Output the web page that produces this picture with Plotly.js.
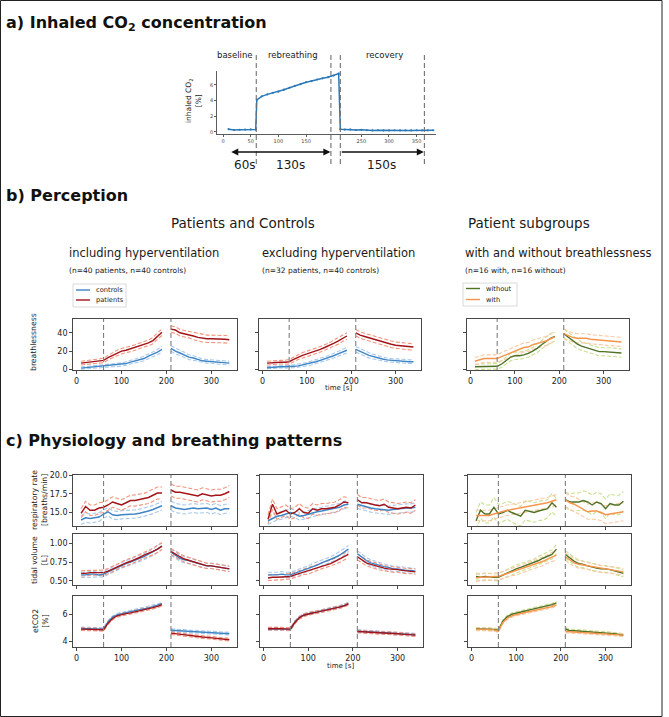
<!DOCTYPE html>
<html><head><meta charset="utf-8">
<script src="https://cdn.plot.ly/plotly-3.0.1.min.js"></script>
<style>body{margin:0;background:#fff}#chart{width:669px;height:717px}</style>
</head><body><div id="chart"></div>
<script>
// ---------------- data ----------------
const T = [10,20,30,40,50,60,70,80,90,100,110,120,130,140,150,160,170,180,190,200,210,220,230,240,250,260,270,280,290,300,310,320,330,340];

// panel a: inhaled CO2
const co2Time = [10,20,30,40,50,59,61,70,80,90,100,110,120,130,140,150,160,170,180,190,200,209,212,220,230,240,250,260,270,280,290,300,310,320,330,340,350,360,370,380];
const co2Inhaled = [0.35,0.25,0.28,0.3,0.32,0.3,4.1,4.55,4.8,5.0,5.15,5.4,5.65,5.9,6.1,6.35,6.5,6.7,6.85,7.0,7.2,7.45,0.35,0.3,0.32,0.25,0.28,0.22,0.2,0.22,0.2,0.2,0.22,0.2,0.2,0.2,0.22,0.2,0.2,0.22];
const co2Lines = [60,195,212,364];

// panel b: breathlessness
const breathInclPatients = [7,7.5,8,9,9.5,10,13,15.5,18,20,21,22.5,24,26,27.5,29,31.5,36.5,40.5,null,44,43,40,39,38,36.5,35,34,33.5,33.5,33.5,33,33,32.5];
const breathInclPatientsHW = [2,2,2,2,2,2.5,2.5,2.5,3,3,3,3,3,3,3,3,3.5,3.5,3.5,null,3.5,3.5,3.5,3.5,3.5,4,4,4,4,4,4,4,4,4];
const breathInclControls = [1.5,2,2.5,3,3,3.5,4,4.5,5,5.5,6.5,8,9.5,10.5,12,14.5,16.5,19,22,null,23,20,18,16,13.5,12.5,11,9.5,9,8.5,8,7.5,7.5,7];
const breathInclControlsHW = [1.2,1.2,1.2,1.2,1.5,1.5,1.5,1.5,1.8,1.8,2,2,2.2,2.2,2.5,2.5,2.5,3,3,null,3,3,2.8,2.8,2.5,2.5,2.2,2,2,2,2,2,2,2];
const breathExclPatients = [7,7.5,8,8,8,8.5,11,13.5,15.5,17,18.5,20,22,24,26,28.5,31,34,36.5,null,40,37.5,36,34.5,33,31.5,30,28.5,27.5,26.5,26,25.5,25,24.5];
const breathExclPatientsHW = [2,2,2,2,2,2.5,2.5,2.5,3,3,3,3,3,3,3,3.5,3.5,3.5,3.5,null,3.5,3.5,3.5,3.5,3.5,3.5,3.5,3.5,3.5,3.5,3.5,3.5,3.5,3.5];
const breathExclControls = [2,2.5,2.5,3,3,3,3.5,4,5,6,7,8.5,10,11.5,13,15,17,19,21,null,22,19.5,17.5,15.5,14,12.5,11.5,10.5,10,9.5,9,9,8.5,8.5];
const breathExclControlsHW = [1.2,1.2,1.2,1.2,1.5,1.5,1.5,1.5,1.8,1.8,2,2,2.2,2.2,2.5,2.5,2.5,3,3,null,3,3,2.8,2.8,2.5,2.5,2.2,2,2,2,2,2,2,2];
const breathWithout = [3,3,3,3,3,3.5,6,10,13.5,15,15,16,17.5,20,23,27,30.5,34,36,null,39,35.5,31,28,25.5,24,22,20.5,19.5,19.5,19,19,18.5,18];
const breathWithoutHW = [3,3,3,3,3,3,3.5,3.5,4,4,4,4,4,4,4.5,4.5,4.5,5,5,null,5,5,5,5,4.5,4.5,4.5,4.5,4.5,4.5,4.5,4.5,4.5,4.5];
const breathWith = [9,10.5,12,12,12,12,14,16,18,20,22,24,24.5,27,28.5,29.5,31,33.5,35.5,null,39,37,35,34,34,34,33,32.5,32,32,31.5,30.5,30,30];
const breathWithHW = [4,4,4,4,4,4,4.5,4.5,4.5,4.5,4.5,5,5,5,5,5,5,5,5,null,5,5,5,5,5,5,5,5,5,5,5,5,5,5];

// panel c: respiratory rate
const rrInclPatients = [14.9,15.8,15.3,15.3,15.6,15.7,16.0,16.4,16.2,16.0,16.3,16.6,16.6,16.7,16.8,17.0,17.3,17.6,17.6,null,18.0,17.7,17.7,17.6,17.4,17.4,17.2,17.5,17.3,17.2,17.3,17.3,17.5,17.8];
const rrInclPatientsHW = [0.6,0.7,0.7,0.7,0.7,0.7,0.7,0.7,0.7,0.7,0.7,0.7,0.75,0.75,0.75,0.8,0.8,0.8,0.8,null,0.8,0.8,0.8,0.8,0.8,0.8,0.8,0.8,0.8,0.8,0.8,0.8,0.8,0.8];
const rrInclControls = [14.0,14.3,14.2,14.3,14.4,14.8,15.1,14.7,14.6,14.7,14.7,14.8,14.8,14.9,15.0,15.2,15.4,15.7,15.9,null,15.9,15.6,15.5,15.4,15.5,15.6,15.5,15.6,15.6,15.4,15.6,15.3,15.5,15.5];
const rrInclControlsHW = [0.6,0.6,0.6,0.6,0.6,0.55,0.55,0.55,0.55,0.55,0.55,0.55,0.55,0.55,0.55,0.55,0.55,0.55,0.55,null,0.6,0.6,0.6,0.6,0.6,0.6,0.6,0.6,0.6,0.6,0.6,0.6,0.6,0.6];
const rrExclPatients = [14.1,16.1,14.8,15.0,15.3,14.8,15.0,15.5,15.0,14.9,15.5,15.3,15.5,15.5,15.6,15.7,16.0,16.4,16.3,null,16.7,16.3,16.3,16.1,16.0,15.9,16.1,15.7,15.6,15.5,15.6,15.7,15.6,16.0];
const rrExclPatientsHW = [0.6,0.7,0.7,0.7,0.7,0.7,0.7,0.7,0.7,0.7,0.7,0.7,0.7,0.7,0.7,0.7,0.7,0.7,0.7,null,0.7,0.7,0.7,0.7,0.7,0.7,0.7,0.7,0.7,0.7,0.7,0.7,0.7,0.7];
const rrExclControls = [13.9,14.2,14.5,14.6,14.8,15.0,14.8,14.5,14.6,14.8,15.0,15.1,15.2,15.3,15.4,15.5,15.7,16.0,16.1,null,16.1,15.9,15.7,15.6,15.5,15.4,15.3,15.3,15.4,15.5,15.5,15.6,15.6,15.7];
const rrExclControlsHW = [0.5,0.5,0.5,0.5,0.5,0.5,0.5,0.5,0.5,0.5,0.5,0.5,0.5,0.5,0.5,0.5,0.5,0.5,0.5,null,0.55,0.55,0.55,0.55,0.55,0.55,0.55,0.55,0.55,0.55,0.55,0.55,0.55,0.55];
const rrWithout = [13.9,15.3,14.8,14.8,15.7,14.8,15.0,15.3,15.0,14.8,14.5,15.3,15.1,15.0,15.2,15.3,15.5,16.3,15.7,null,16.7,16.4,16.4,16.4,16.6,16.4,16.0,16.4,16.2,15.5,16.2,16.0,16.0,16.5];
const rrWithoutHW = [1.1,1.1,1.2,1.2,1.3,1.3,1.2,1.2,1.3,1.3,1.3,1.3,1.3,1.3,1.3,1.3,1.2,1.2,1.2,null,1.0,1.1,1.2,1.2,1.3,1.3,1.3,1.3,1.3,1.3,1.3,1.3,1.3,1.3];
const rrWith = [14.6,14.6,14.5,14.6,14.8,15.0,15.2,15.3,15.4,15.5,15.6,15.7,15.8,16.0,16.0,16.1,16.3,16.5,16.7,null,16.7,16.3,16.1,15.8,15.4,15.1,15.2,15.2,15.0,14.7,14.8,14.9,15.0,15.1];
const rrWithHW = [0.7,0.7,0.7,0.7,0.7,0.7,0.7,0.7,0.7,0.7,0.7,0.7,0.7,0.7,0.7,0.7,0.7,0.7,0.7,null,0.9,0.9,1.0,1.0,1.0,1.0,1.1,1.1,1.1,1.2,1.2,1.2,1.2,1.2];

// panel c: tidal volume
const tvInclPatients = [0.60,0.60,0.61,0.61,0.61,0.61,0.63,0.66,0.69,0.72,0.74,0.76,0.78,0.81,0.84,0.86,0.89,0.92,0.96,null,0.89,0.85,0.82,0.79,0.77,0.75,0.73,0.71,0.70,0.70,0.69,0.68,0.67,0.66];
const tvInclControls = [0.58,0.58,0.59,0.59,0.58,0.59,0.62,0.65,0.68,0.71,0.73,0.75,0.78,0.80,0.82,0.85,0.88,0.92,0.96,null,0.88,0.84,0.80,0.78,0.77,0.75,0.73,0.71,0.70,0.70,0.69,0.68,0.67,0.66];
const tvExclPatients = [0.54,0.55,0.55,0.55,0.56,0.56,0.58,0.60,0.62,0.63,0.66,0.68,0.70,0.72,0.73,0.76,0.79,0.82,0.85,null,0.82,0.78,0.74,0.72,0.70,0.68,0.67,0.66,0.65,0.65,0.64,0.63,0.63,0.62];
const tvExclControls = [0.58,0.58,0.58,0.59,0.58,0.58,0.60,0.62,0.64,0.66,0.69,0.71,0.74,0.76,0.78,0.81,0.84,0.88,0.92,null,0.86,0.81,0.77,0.74,0.72,0.70,0.69,0.68,0.66,0.66,0.65,0.64,0.64,0.63];
const tvWithout = [0.56,0.55,0.56,0.55,0.55,0.55,0.58,0.61,0.63,0.66,0.68,0.70,0.72,0.74,0.77,0.80,0.82,0.85,0.92,null,0.85,0.80,0.76,0.73,0.72,0.70,0.68,0.67,0.66,0.66,0.65,0.63,0.62,0.60];
const tvWith = [0.54,0.55,0.55,0.56,0.56,0.56,0.58,0.60,0.62,0.63,0.65,0.67,0.70,0.72,0.74,0.76,0.79,0.82,0.84,null,0.82,0.78,0.74,0.72,0.71,0.70,0.68,0.67,0.66,0.65,0.65,0.64,0.63,0.62];
const tvHWGroups = [0.035,0.035,0.035,0.035,0.035,0.035,0.035,0.035,0.035,0.04,0.04,0.04,0.04,0.04,0.04,0.04,0.045,0.045,0.045,null,0.04,0.04,0.04,0.04,0.04,0.035,0.035,0.035,0.035,0.035,0.035,0.035,0.035,0.035];
const tvHWSub = [0.045,0.045,0.045,0.045,0.045,0.045,0.045,0.05,0.05,0.05,0.05,0.05,0.05,0.05,0.055,0.055,0.055,0.06,0.06,null,0.05,0.05,0.05,0.05,0.045,0.045,0.045,0.045,0.045,0.045,0.045,0.045,0.045,0.045];

// panel c: etCO2
const etInclPatients = [4.9,4.9,4.9,4.88,4.87,4.85,5.35,5.7,5.9,6.0,6.07,6.13,6.2,6.27,6.35,6.43,6.52,6.62,6.75,null,4.6,4.55,4.5,4.48,4.45,4.4,4.35,4.3,4.28,4.25,4.2,4.15,4.12,4.1];
const etInclControls = [4.95,4.95,4.95,4.93,4.92,4.9,5.45,5.8,5.98,6.08,6.15,6.22,6.3,6.36,6.43,6.5,6.6,6.7,6.82,null,4.82,4.8,4.78,4.77,4.75,4.73,4.7,4.68,4.65,4.63,4.6,4.58,4.56,4.55];
const etExclPatients = [4.93,4.95,4.95,4.93,4.92,4.9,5.4,5.75,5.95,6.05,6.12,6.18,6.25,6.32,6.4,6.48,6.56,6.66,6.8,null,4.72,4.68,4.68,4.66,4.65,4.63,4.6,4.58,4.56,4.55,4.52,4.5,4.47,4.45];
const etExclControls = [4.9,4.92,4.92,4.9,4.9,4.88,5.42,5.78,5.97,6.07,6.14,6.2,6.27,6.34,6.42,6.5,6.58,6.68,6.82,null,4.75,4.72,4.7,4.68,4.67,4.65,4.63,4.6,4.58,4.56,4.55,4.52,4.5,4.48];
const etWithout = [4.92,4.93,4.92,4.9,4.88,4.8,5.5,5.85,6.02,6.12,6.2,6.27,6.35,6.42,6.5,6.58,6.66,6.75,6.88,null,4.92,4.78,4.78,4.76,4.75,4.72,4.7,4.67,4.65,4.62,4.58,4.55,4.5,4.45];
const etWith = [4.88,4.9,4.88,4.86,4.84,4.75,5.4,5.72,5.9,6.0,6.07,6.13,6.2,6.27,6.35,6.42,6.5,6.6,6.72,null,4.72,4.7,4.7,4.7,4.68,4.66,4.64,4.62,4.6,4.58,4.55,4.52,4.48,4.45];
const etHW = [0.1,0.1,0.1,0.1,0.1,0.1,0.1,0.1,0.1,0.1,0.1,0.1,0.1,0.1,0.1,0.1,0.1,0.1,0.1,null,0.1,0.1,0.1,0.1,0.1,0.1,0.1,0.1,0.1,0.1,0.1,0.1,0.1,0.1];

const phaseLines = [60, 210];
const xTicks = [0,100,200,300];

// ---------------- style ----------------
const COL = {
  controls:'#3d85c6', controlsCI:'#a9c8ea',
  patients:'#a31318', patientsCI:'#f2937a',
  without:'#4e7223', withoutCI:'#c9e08f',
  with_:'#f7944b', withCI:'#fcc8a2',
  co2:'#2a78b8', vline:'#808080', axis:'#333333', text:'#1a1a1a'
};
const FONT = 'DejaVu Sans, Verdana, sans-serif';
const CI_DASH = '4px,2px';
const V_DASH = '5px,3px';
const W = 669, H = 717;
const px = v => v / W;
const py = v => 1 - v / H;

const data = [];
const shapes = [];
const annotations = [];
const layout = {
  width: W, height: H, margin:{l:0,r:0,t:0,b:0},
  paper_bgcolor:'#ffffff', plot_bgcolor:'#ffffff',
  showlegend:false, font:{family:FONT, color:COL.text}
};

function ann(text, x, y, opt) {
  annotations.push(Object.assign({text, x:px(x), y:py(y), xref:'paper', yref:'paper',
    showarrow:false, xanchor:'left', yanchor:'middle',
    font:{family:FONT, size:10, color:COL.text}}, opt || {}));
}

// ---------- panel a ----------
layout.xaxis = {domain:[px(217), px(436)], range:[-11,385], anchor:'y',
  tickvals:[0,50,100,150,250,300,350], ticks:'outside', ticklen:2, tickwidth:0.8, tickcolor:COL.axis,
  showline:true, linecolor:COL.axis, linewidth:0.8, showgrid:false, zeroline:false,
  tickfont:{family:FONT, size:5, color:'#444'}};
layout.yaxis = {domain:[py(134.3), py(70.9)], range:[-0.3,7.8], anchor:'x',
  tickvals:[0,2,4,6], ticks:'outside', ticklen:2, tickwidth:0.8, tickcolor:COL.axis,
  showline:true, linecolor:COL.axis, linewidth:0.8, showgrid:false, zeroline:false,
  tickfont:{family:FONT, size:5, color:'#444'}};
data.push({x:co2Time, y:co2Inhaled, xaxis:'x', yaxis:'y', type:'scatter', mode:'lines+markers',
  line:{color:COL.co2, width:1.5}, marker:{size:2.2, color:COL.co2}, hoverinfo:'skip'});
co2Lines.forEach(v => shapes.push({type:'line', xref:'x', yref:'paper', x0:v, x1:v, y0:py(164), y1:py(53),
  line:{color:'#6f6f6f', width:1.1, dash:V_DASH}}));
const phaseFont = {family:FONT,size:8.5,color:COL.text};
ann('baseline', 235, 55, {xanchor:'center', font:phaseFont});
ann('rebreathing', 293, 55, {xanchor:'center', font:phaseFont});
ann('recovery', 384, 55, {xanchor:'center', font:phaseFont});
ann('inhaled CO<sub>2</sub><br>[%]', 194, 101, {xanchor:'center', textangle:-90, font:{family:FONT,size:7.5,color:COL.text}});
// arrows
annotations.push({x:194, y:py(152), xref:'x', yref:'paper', ax:12, ay:0, axref:'x', ayref:'pixel',
  text:'', showarrow:true, arrowhead:2, startarrowhead:2, arrowside:'end+start', arrowsize:1, arrowwidth:1.4, arrowcolor:'#111'});
annotations.push({x:363, y:py(152), xref:'x', yref:'paper', ax:212, ay:0, axref:'x', ayref:'pixel',
  text:'', showarrow:true, arrowhead:2, arrowside:'end', arrowsize:1, arrowwidth:1.4, arrowcolor:'#111'});
const durFont = {family:FONT,size:12,color:COL.text};
[['60s',40],['130s',121],['150s',287]].forEach(d => annotations.push({text:d[0], x:d[1], y:py(165), xref:'x', yref:'paper',
  showarrow:false, xanchor:'center', yanchor:'middle', font:durFont}));

// ---------- titles ----------
const bold = {family:FONT,size:16,color:'#111'};
ann('<b>a) Inhaled CO<sub>2</sub> concentration</b>', 4, 23, {font:bold});
ann('<b>b) Perception</b>', 4, 195, {font:bold});
ann('<b>c) Physiology and breathing patterns</b>', 4, 440, {font:bold});
const grpFont = {family:FONT,size:13.5,color:COL.text};
ann('Patients and Controls', 243, 223, {xanchor:'center', font:grpFont});
ann('Patient subgroups', 529, 223, {xanchor:'center', font:grpFont});
const subFont = {family:FONT,size:11.5,color:COL.text};
ann('including hyperventilation', 67, 253, {font:subFont});
ann('excluding hyperventilation', 260, 253, {font:subFont});
ann('with and without breathlessness', 463, 253, {font:subFont});
const nFont = {family:FONT,size:7.5,color:COL.text};
ann('(n=40 patients, n=40 controls)', 67, 270, {font:nFont});
ann('(n=32 patients, n=40 controls)', 260, 270, {font:nFont});
ann('(n=16 with, n=16 without)', 463, 270, {font:nFont});

// ---------- small multiples ----------
let axN = 2;
function panel(box, yr, yticks, ytext, showY, showX, series) {
  const n = axN++;
  const xa = 'x' + n, ya = 'y' + n;
  const common = {ticks:'outside', ticklen:3, tickwidth:0.9, tickcolor:COL.axis, showline:true, mirror:true,
    linecolor:COL.axis, linewidth:0.9, showgrid:false, zeroline:false, tickfont:{family:FONT,size:8,color:COL.text}};
  layout['xaxis'+n] = Object.assign({}, common, {domain:[px(box[0]), px(box[1])], range:[-8,357], anchor:ya,
    tickvals:xTicks, showticklabels:showX});
  layout['yaxis'+n] = Object.assign({}, common, {domain:[py(box[3]), py(box[2])], range:yr, anchor:xa,
    tickvals:yticks, ticktext:ytext, showticklabels:showY});
  phaseLines.forEach(v => shapes.push({type:'line', xref:xa, yref:ya+' domain', x0:v, x1:v, y0:0, y1:1,
    line:{color:COL.vline, width:1.1, dash:V_DASH}}));
  series.forEach(s => {
    const lo = s.mean.map((v,i) => v === null ? null : v - s.hw[i]);
    const hi = s.mean.map((v,i) => v === null ? null : v + s.hw[i]);
    [lo, hi].forEach(arr => data.push({x:T, y:arr, xaxis:xa, yaxis:ya, type:'scatter', mode:'lines',
      line:{color:s.ci, width:1.1, dash:CI_DASH}, hoverinfo:'skip'}));
  });
  series.forEach(s => data.push({x:T, y:s.mean, xaxis:xa, yaxis:ya, type:'scatter', mode:'lines',
    line:{color:s.col, width:1.4}, name:s.name, hoverinfo:'skip'}));
}
const grp = (p, pHW, c, cHW) => [
  {name:'controls', mean:c, hw:cHW, col:COL.controls, ci:COL.controlsCI},
  {name:'patients', mean:p, hw:pHW, col:COL.patients, ci:COL.patientsCI}];
const sub = (wo, woHW, w, wHW) => [
  {name:'without', mean:wo, hw:woHW, col:COL.without, ci:COL.withoutCI},
  {name:'with', mean:w, hw:wHW, col:COL.with_, ci:COL.withCI}];

const colB = [[73,237],[259,421],[467,629]];
const colC = [[73,237],[260,423],[468,631]];
const rowB = [319,370];
const rowsC = [[475,526],[534,585],[596,647]];

const bRange = [-0.5,55], bTicks = [0,20,40];
panel([...colB[0], ...rowB], bRange, bTicks, null, true, true, grp(breathInclPatients, breathInclPatientsHW, breathInclControls, breathInclControlsHW));
panel([...colB[1], ...rowB], bRange, bTicks, null, false, true, grp(breathExclPatients, breathExclPatientsHW, breathExclControls, breathExclControlsHW));
panel([...colB[2], ...rowB], bRange, bTicks, null, false, true, sub(breathWithout, breathWithoutHW, breathWith, breathWithHW));

const rrR = [13.2,20.0], rrT = [15,17.5,20], rrL = ['15.0','17.5','20.0'];
const tvR = [0.447,1.12], tvT = [0.5,0.75,1.0], tvL = ['0.50','0.75','1.00'];
const etR = [3.55,7.4], etT = [4,6];
panel([...colC[0], ...rowsC[0]], rrR, rrT, rrL, true, false, grp(rrInclPatients, rrInclPatientsHW, rrInclControls, rrInclControlsHW));
panel([...colC[1], ...rowsC[0]], rrR, rrT, rrL, false, false, grp(rrExclPatients, rrExclPatientsHW, rrExclControls, rrExclControlsHW));
panel([...colC[2], ...rowsC[0]], rrR, rrT, rrL, false, false, sub(rrWithout, rrWithoutHW, rrWith, rrWithHW));
panel([...colC[0], ...rowsC[1]], tvR, tvT, tvL, true, false, grp(tvInclPatients, tvHWGroups, tvInclControls, tvHWGroups));
panel([...colC[1], ...rowsC[1]], tvR, tvT, tvL, false, false, grp(tvExclPatients, tvHWGroups, tvExclControls, tvHWGroups));
panel([...colC[2], ...rowsC[1]], tvR, tvT, tvL, false, false, sub(tvWithout, tvHWSub, tvWith, tvHWSub));
panel([...colC[0], ...rowsC[2]], etR, etT, null, true, true, grp(etInclPatients, etHW, etInclControls, etHW));
panel([...colC[1], ...rowsC[2]], etR, etT, null, false, true, grp(etExclPatients, etHW, etExclControls, etHW));
panel([...colC[2], ...rowsC[2]], etR, etT, null, false, true, sub(etWithout, etHW, etWith, etHW));

// axis labels
const lab = {family:FONT, size:7.7, color:COL.text};
ann('breathlessness', 33, 342, {xanchor:'center', textangle:-90, font:lab});
ann('respiratory rate<br>[breaths/min]', 39, 500, {xanchor:'center', textangle:-90, font:lab});
ann('tidal volume<br>[L]', 39, 560, {xanchor:'center', textangle:-90, font:lab});
ann('etCO2<br>[%]', 40, 621, {xanchor:'center', textangle:-90, font:lab});
ann('time [s]', 338, 388, {xanchor:'center', font:{family:FONT,size:7,color:COL.text}});
ann('time [s]', 341, 666, {xanchor:'center', font:{family:FONT,size:7,color:COL.text}});

// legends (drawn boxes)
function legend(x0, y0, x1, y1, items) {
  shapes.push({type:'rect', xref:'paper', yref:'paper', x0:px(x0), x1:px(x1), y0:py(y1), y1:py(y0),
    line:{color:'#d0d0d0', width:0.8}, fillcolor:'rgba(255,255,255,0.9)'});
  items.forEach(it => {
    shapes.push({type:'line', xref:'paper', yref:'paper', x0:px(x0+3), x1:px(x0+17), y0:py(it.y), y1:py(it.y),
      line:{color:it.col, width:1.4}});
    ann(it.t, x0+21, it.y, {font:{family:FONT, size:6.7, color:COL.text}});
  });
}
legend(73, 284, 126, 307, [{t:'controls', y:290, col:COL.controls}, {t:'patients', y:300, col:COL.patients}]);
legend(463, 283, 517, 306, [{t:'without', y:288.5, col:COL.without}, {t:'with', y:299.5, col:COL.with_}]);

// frame
shapes.push({type:'rect', xref:'paper', yref:'paper', x0:px(0.5), x1:px(662), y0:py(716.5), y1:py(0.5),
  line:{color:'#222', width:1}});

layout.shapes = shapes;
layout.annotations = annotations;
Plotly.newPlot('chart', data, layout, {staticPlot:true, displayModeBar:false});
</script>
</body></html>
